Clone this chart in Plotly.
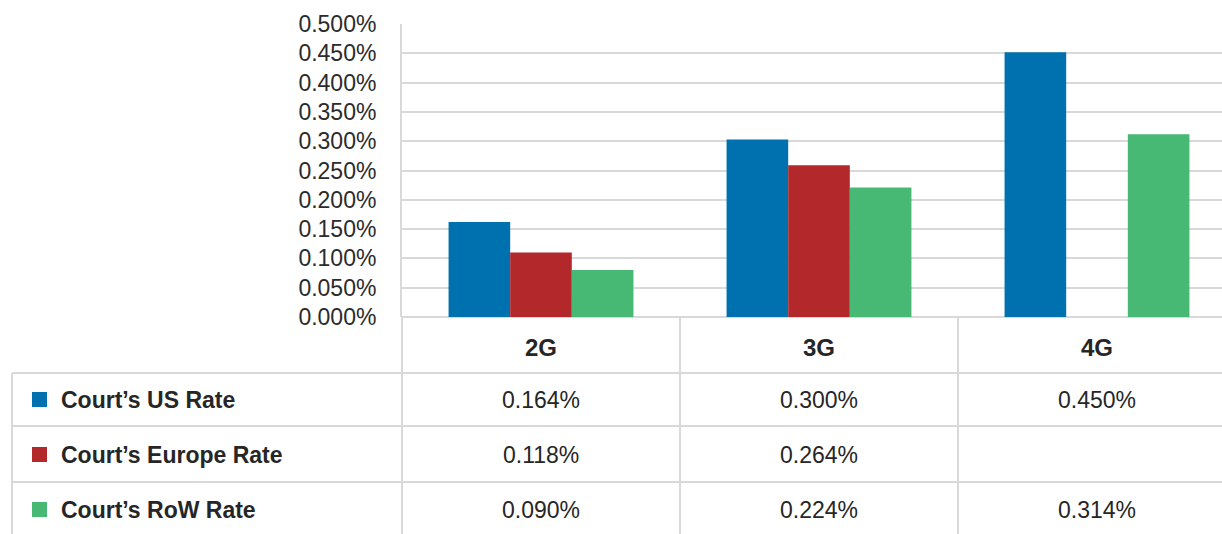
import plotly.graph_objects as go

# ---- data ----
categories = ["2G", "3G", "4G"]
series_names = ["Court\u2019s US Rate", "Court\u2019s Europe Rate", "Court\u2019s RoW Rate"]
us_bars = [0.162, 0.303, 0.452]
europe_bars = [0.110, 0.259, None]
row_bars = [0.080, 0.221, 0.312]
us_table = ["0.164%", "0.300%", "0.450%"]
europe_table = ["0.118%", "0.264%", ""]
row_table = ["0.090%", "0.224%", "0.314%"]
y_ticks = [0.0, 0.05, 0.10, 0.15, 0.20, 0.25, 0.30, 0.35, 0.40, 0.45, 0.50]
y_tick_labels = [f"{v:.3f}%" for v in y_ticks]

colors = ["#0071AF", "#B3282A", "#48B974"]
grid = "#D9D9D9"
txt = "#262626"
FONT = "Liberation Sans, Arial, Helvetica, sans-serif"

W, H = 1222, 534
ML, MR, MT, MB = 402, 0, 24, 217
PW, PH = W - ML - MR, H - MT - MB
CAT_PX = 278.0


def px(xp):
    return (xp - ML) / PW


def py(yp):
    return (H - MB - yp) / PH


fig = go.Figure()
for name, vals, col in zip(series_names, [us_bars, europe_bars, row_bars], colors):
    fig.add_trace(go.Bar(x=categories, y=vals, name=name, marker_color=col,
                         marker_line_width=0, showlegend=False))

# table geometry (pixels)
row_lines = [373, 426, 482]
header_y = 347
row_centers = [399.5, 454.5, 509.5]
table_left = 12

shapes = []
for yl in row_lines:
    shapes.append(dict(type="line", xref="paper", yref="paper", x0=px(table_left), x1=1,
                       y0=py(yl), y1=py(yl), line=dict(color=grid, width=2)))
shapes.append(dict(type="line", xref="paper", yref="paper", x0=px(table_left), x1=px(table_left),
                   y0=py(row_lines[0]), y1=py(H + 5), line=dict(color=grid, width=2)))
shapes.append(dict(type="line", xref="paper", yref="paper", x0=0, x1=0,
                   y0=0, y1=py(H + 5), line=dict(color=grid, width=2)))
for xv in [0.5, 1.5]:
    shapes.append(dict(type="line", xref="x", yref="paper", x0=xv, x1=xv,
                       y0=0, y1=py(H + 5), line=dict(color=grid, width=2)))
for yc, col in zip(row_centers, colors):
    shapes.append(dict(type="rect", xref="paper", yref="paper", x0=px(32), x1=px(47),
                       y0=py(yc - 7.5), y1=py(yc + 7.5), fillcolor=col, line=dict(width=0)))

annotations = []
for i, c in enumerate(categories):
    annotations.append(dict(x=i, y=py(header_y), xref="x", yref="paper", text=f"<b>{c}</b>",
                            showarrow=False, font=dict(family=FONT, size=24, color=txt),
                            xanchor="center", yanchor="middle"))
for yc, name, labels in zip(row_centers, series_names, [us_table, europe_table, row_table]):
    annotations.append(dict(x=px(59), y=py(yc), xref="paper", yref="paper", text=f"<b>{name}</b>",
                            showarrow=False, font=dict(family=FONT, size=23, color=txt),
                            xanchor="left", yanchor="middle"))
    for i, lab in enumerate(labels):
        if lab:
            annotations.append(dict(x=i, y=py(yc), xref="x", yref="paper", text=lab,
                                    showarrow=False, font=dict(family=FONT, size=23, color=txt),
                                    xanchor="center", yanchor="middle"))

fig.update_layout(
    width=W, height=H,
    margin=dict(l=ML, r=MR, t=MT, b=MB, pad=0),
    paper_bgcolor="white", plot_bgcolor="white",
    barmode="group", bargap=0.335, bargroupgap=0,
    shapes=shapes, annotations=annotations,
    xaxis=dict(range=[-0.5, -0.5 + PW / CAT_PX], showticklabels=False, showgrid=False,
               zeroline=False, showline=False, fixedrange=True),
    yaxis=dict(range=[0, 0.5], tickvals=y_ticks, ticktext=y_tick_labels,
               showgrid=True, gridcolor=grid, gridwidth=2, zeroline=True, zerolinecolor=grid,
               zerolinewidth=2, showline=True, linecolor=grid, linewidth=2,
               ticks="outside", ticklen=19, tickcolor="rgba(0,0,0,0)",
               tickfont=dict(family=FONT, size=23, color="#2b2b2b"), fixedrange=True),
)

fig.write_html("out.html")
